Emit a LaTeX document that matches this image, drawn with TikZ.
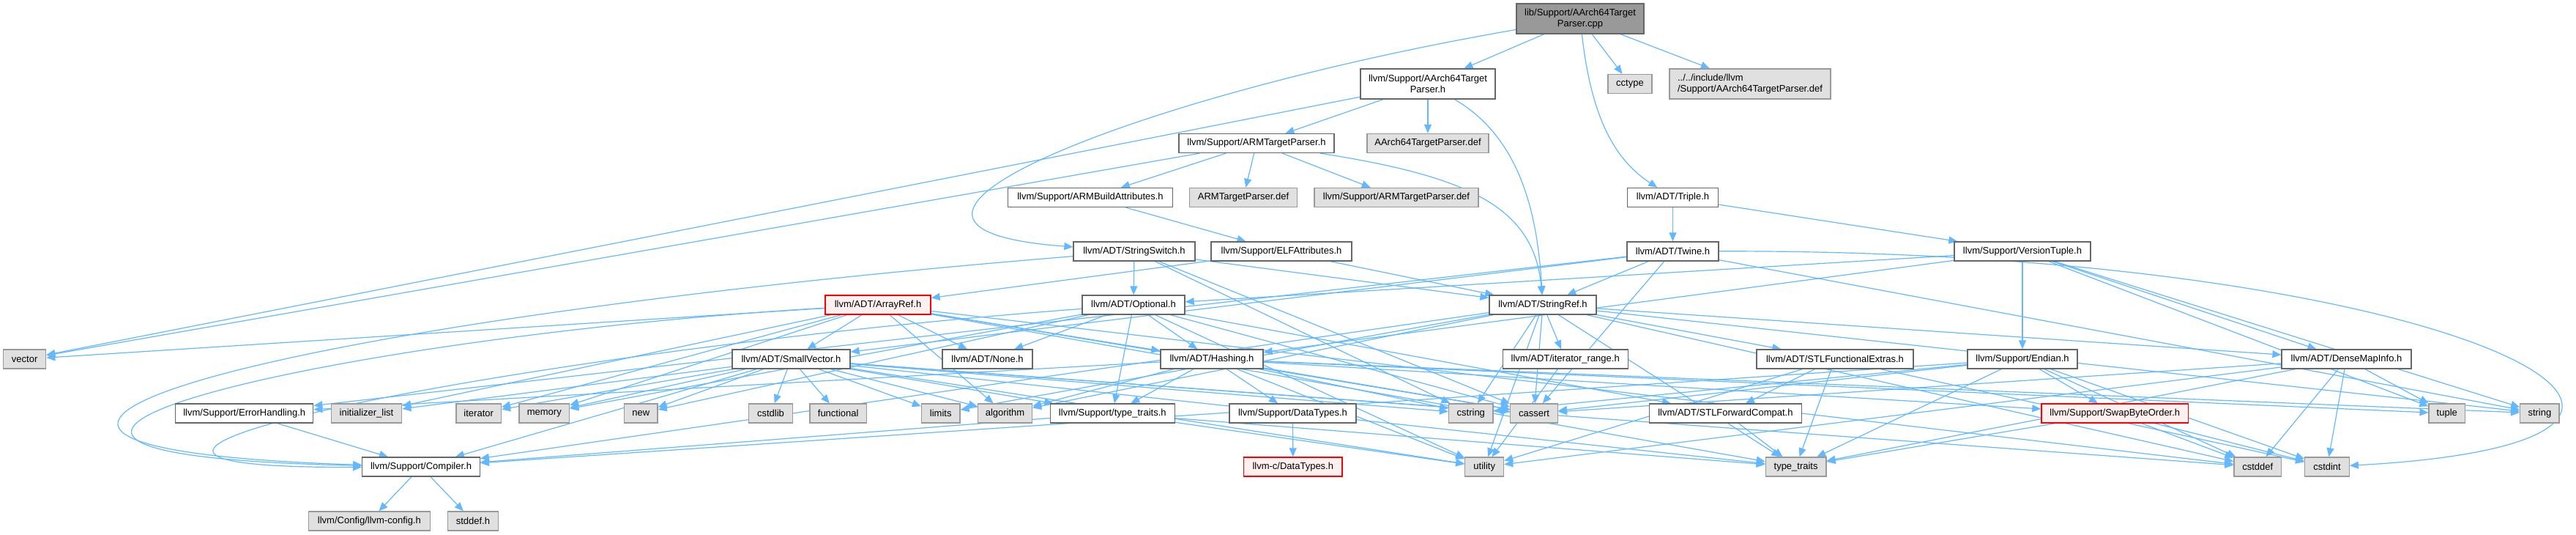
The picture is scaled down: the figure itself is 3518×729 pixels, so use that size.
\documentclass[tikz,border=0pt]{standalone}
\usepackage{fontspec}
\setmainfont{Liberation Sans}
\usetikzlibrary{arrows.meta}
\definecolor{edgec}{HTML}{63B8FF}
\definecolor{bd}{HTML}{666666}
\definecolor{extfill}{HTML}{E0E0E0}
\definecolor{extbd}{HTML}{999999}
\definecolor{rootfill}{HTML}{999999}
\definecolor{trfill}{HTML}{FFF0F0}
\pgfdeclarelayer{bg}
\pgfsetlayers{bg,main}
\tikzset{
  nd/.style={draw=bd, fill=white, line width=1.3pt, rectangle, inner sep=0pt,
    minimum height=26pt, font=\fontsize{13}{14.5}\selectfont, text=black},
  ext/.style={nd, draw=extbd, fill=extfill},
  trunc/.style={nd, draw=red, fill=trfill},
  rootnd/.style={nd, fill=rootfill, minimum height=41pt, align=center},
  two/.style={minimum height=41pt, align=center},
  dep/.style={draw=edgec, line width=1.2pt, -{Triangle[length=12pt,width=10pt]}}
}
\begin{document}
\begin{tikzpicture}[x=1pt,y=-1pt]
\useasboundingbox (0,0) rectangle (3518,729);
% row 0
\node[rootnd, minimum width=174pt] (root) at (2158,25.5) {lib/Support/AArch64Target\\Parser.cpp};
% row 1
\node[nd, two, minimum width=184pt] (AAh) at (1950,114.5) {llvm/Support/AArch64Target\\Parser.h};
\node[ext, minimum width=60pt] (cctype) at (2226,114.5) {cctype};
\node[ext, minimum height=41pt, align=left, minimum width=220pt] (incdef) at (2390,114.5) {../../include/llvm\\/Support/AArch64TargetParser.def};
% row 2
\node[nd, minimum width=212pt] (ARMh) at (1716,195.5) {llvm/Support/ARMTargetParser.h};
\node[ext, minimum width=166pt] (AAdef) at (1950,195.5) {AArch64TargetParser.def};
% row 3
\node[nd, minimum width=225pt] (ARMBA) at (1489,269.5) {llvm/Support/ARMBuildAttributes.h};
\node[ext, minimum width=147pt] (ARMdef) at (1698,269.5) {ARMTargetParser.def};
\node[ext, minimum width=224pt] (ARMdefFull) at (1907,269.5) {llvm/Support/ARMTargetParser.def};
\node[nd, minimum width=124pt] (Triple) at (2284.5,269.5) {llvm/ADT/Triple.h};
% row 4
\node[nd, minimum width=166pt] (SS) at (1549,343) {llvm/ADT/StringSwitch.h};
\node[nd, minimum width=192pt] (ELF) at (1750,343) {llvm/Support/ELFAttributes.h};
\node[nd, minimum width=125pt] (Twine) at (2284.5,343) {llvm/ADT/Twine.h};
\node[nd, minimum width=186pt] (VT) at (2762,343) {llvm/Support/VersionTuple.h};
% row 5
\node[trunc, minimum width=144pt] (ArrayRef) at (1199,416) {llvm/ADT/ArrayRef.h};
\node[nd, minimum width=140pt] (Optional) at (1548,416) {llvm/ADT/Optional.h};
\node[nd, minimum width=146pt] (StringRef) at (2107,416) {llvm/ADT/StringRef.h};
% row 6
\node[ext, minimum width=58pt] (vector) at (33.7,490) {vector};
\node[nd, minimum width=161pt] (SmallVector) at (1080.5,490) {llvm/ADT/SmallVector.h};
\node[nd, minimum width=123pt] (None) at (1348.5,490) {llvm/ADT/None.h};
\node[nd, minimum width=140pt] (Hashing) at (1655,490) {llvm/ADT/Hashing.h};
\node[nd, minimum width=171pt] (iterrange) at (2137.7,490) {llvm/ADT/iterator\_range.h};
\node[nd, minimum width=214pt] (STLFE) at (2506,490) {llvm/ADT/STLFunctionalExtras.h};
\node[nd, minimum width=150pt] (Endian) at (2762,490) {llvm/Support/Endian.h};
\node[nd, minimum width=177pt] (DMI) at (3204.5,490) {llvm/ADT/DenseMapInfo.h};
% row 7
\node[nd, minimum width=188pt] (ErrH) at (333.7,564) {llvm/Support/ErrorHandling.h};
\node[ext, minimum width=96.5pt] (initlist) at (500.5,564) {initializer\_list};
\node[ext, minimum width=61.6pt] (iterator) at (653.7,564) {iterator};
\node[ext, minimum width=68.5pt] (memory) at (743.3,564) {memory};
\node[ext, minimum width=45.5pt] (new) at (875.3,564) {new};
\node[ext, minimum width=60pt] (cstdlib) at (1052.5,564) {cstdlib};
\node[ext, minimum width=77.7pt] (functional) at (1144.7,564) {functional};
\node[ext, minimum width=52.4pt] (limits) at (1284.7,564) {limits};
\node[ext, minimum width=74pt] (algorithm) at (1372.5,564) {algorithm};
\node[nd, minimum width=170pt] (ttH) at (1519.3,564) {llvm/Support/type\_traits.h};
\node[nd, minimum width=173pt] (SupDT) at (1765.5,564) {llvm/Support/DataTypes.h};
\node[ext, minimum width=60.5pt] (cstring) at (2008.8,564) {cstring};
\node[ext, minimum width=64.7pt] (cassert) at (2095,564) {cassert};
\node[nd, minimum width=208.5pt] (STLFC) at (2356.4,564) {llvm/ADT/STLForwardCompat.h};
\node[trunc, minimum width=200.8pt] (SBO) at (2888.3,564) {llvm/Support/SwapByteOrder.h};
\node[ext, minimum width=49.4pt] (tuple) at (3341.8,564) {tuple};
\node[ext, minimum width=53.4pt] (string) at (3468.4,564) {string};
% row 8
\node[nd, minimum width=160.6pt] (Compiler) at (575,637) {llvm/Support/Compiler.h};
\node[trunc, minimum width=134.5pt] (cDT) at (1765.8,637) {llvm-c/DataTypes.h};
\node[ext, minimum width=52.8pt] (utility) at (2027.2,637) {utility};
\node[ext, minimum width=82.7pt] (typetraits) at (2452.6,637) {type\_traits};
\node[ext, minimum width=64.5pt] (cstddef) at (3083.2,637) {cstddef};
\node[ext, minimum width=60.4pt] (cstdint) at (3178,637) {cstdint};
% row 9
\node[ext, minimum width=166pt] (llvmconfig) at (504.4,711) {llvm/Config/llvm-config.h};
\node[ext, minimum width=69pt] (stddef) at (645.9,711) {stddef.h};

\begin{pgfonlayer}{bg}
\foreach \s/\t in {root/AAh, root/cctype, root/incdef,
  AAh/ARMh, AAh/vector, AAh/AAdef,
  ARMh/ARMBA, ARMh/vector, ARMh/ARMdef, ARMh/ARMdefFull,
  ARMBA/ELF, ELF/ArrayRef, ELF/StringRef,
  SS/StringRef, SS/Optional, SS/cassert, SS/cstring,
  Triple/Twine, Triple/VT,
  Twine/SmallVector, Twine/StringRef, Twine/ErrH, Twine/cassert, Twine/string,
  VT/DMI, VT/Hashing, VT/Optional, VT/Endian, VT/string, VT/tuple,
  ArrayRef/Hashing, ArrayRef/None, ArrayRef/SmallVector, ArrayRef/algorithm,
  ArrayRef/cassert, ArrayRef/cstddef, ArrayRef/initlist, ArrayRef/iterator,
  ArrayRef/memory, ArrayRef/typetraits, ArrayRef/vector,
  Optional/Hashing, Optional/None, Optional/STLFC, Optional/ttH, Optional/cassert,
  Optional/memory, Optional/new, Optional/utility,
  StringRef/DMI, StringRef/STLFE, StringRef/iterrange, StringRef/Compiler,
  StringRef/algorithm, StringRef/cassert, StringRef/cstddef, StringRef/cstring,
  StringRef/limits, StringRef/string, StringRef/typetraits, StringRef/utility,
  SmallVector/Compiler, SmallVector/ttH, SmallVector/algorithm, SmallVector/cassert,
  SmallVector/cstddef, SmallVector/cstdlib, SmallVector/cstring, SmallVector/functional,
  SmallVector/initlist, SmallVector/iterator, SmallVector/limits, SmallVector/memory,
  SmallVector/new, SmallVector/typetraits, SmallVector/utility,
  Hashing/SupDT, Hashing/ErrH, Hashing/SBO, Hashing/ttH, Hashing/algorithm,
  Hashing/cassert, Hashing/cstring, Hashing/string, Hashing/tuple, Hashing/utility,
  iterrange/utility,
  STLFE/STLFC, STLFE/cstdint, STLFE/typetraits, STLFE/utility,
  Endian/Compiler, Endian/SBO, Endian/cassert, Endian/cstddef, Endian/cstdint,
  Endian/cstring, Endian/typetraits,
  DMI/cassert, DMI/cstddef, DMI/cstdint, DMI/tuple, DMI/typetraits, DMI/utility,
  ErrH/Compiler, ttH/Compiler, ttH/typetraits, ttH/utility,
  SupDT/cDT, STLFC/typetraits,
  SBO/cstddef, SBO/cstdint, SBO/typetraits,
  Compiler/llvmconfig, Compiler/stddef}
  \draw[dep] (\s) -- (\t);
% curved connectors
\draw[dep] (root) .. controls (1550,130) and (1100,310) .. (SS);
\draw[dep] (root) .. controls (2172,150) and (2200,215) .. (Triple);
\draw[dep] (AAh) .. controls (2080,190) and (2100,300) .. (StringRef);
\draw[dep] (ARMh) .. controls (2000,240) and (2095,280) .. (StringRef);
\draw[dep] (SS) .. controls (350,440) and (-250,610) .. (Compiler);
\draw[dep] (ArrayRef) .. controls (450,460) and (-230,620) .. (Compiler);
\draw[dep] (Optional) .. controls (700,480) and (-80,640) .. (Compiler);
\draw[dep] (Twine) .. controls (3350,340) and (3850,600) .. (cstdint);
\end{pgfonlayer}
\end{tikzpicture}
\end{document}
